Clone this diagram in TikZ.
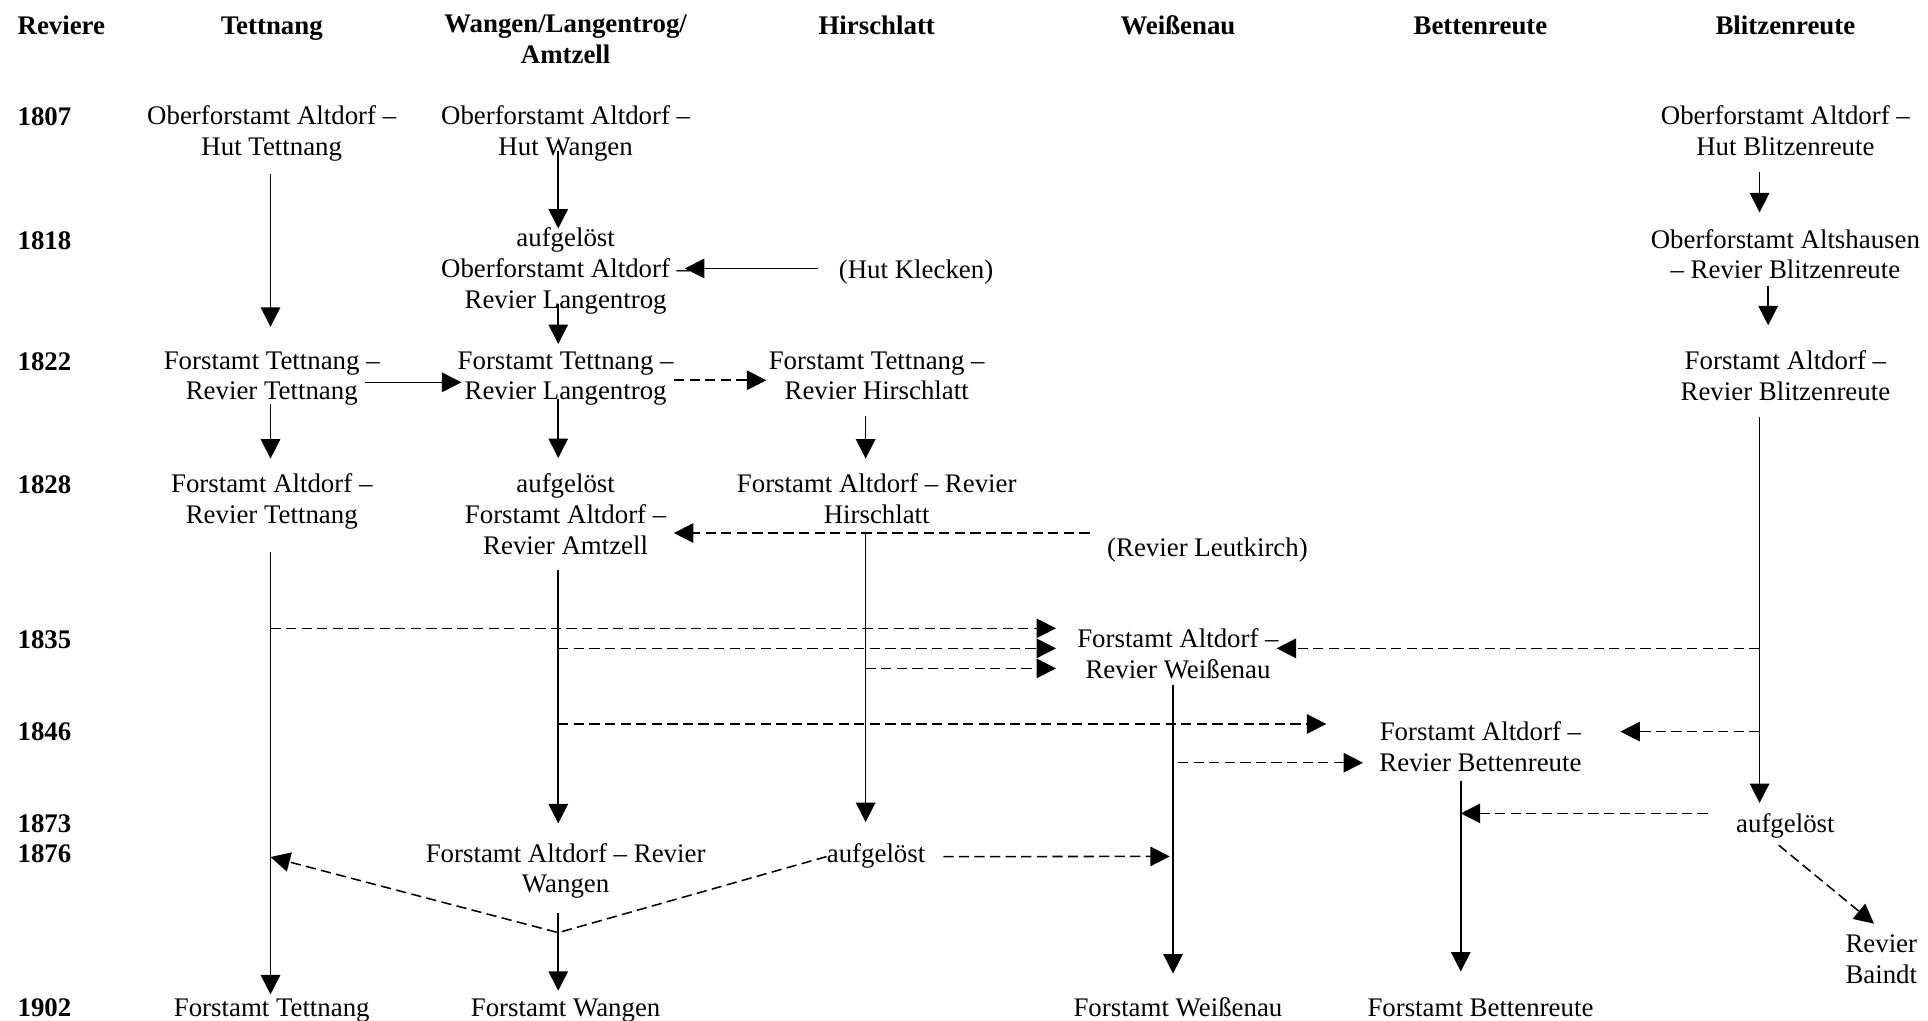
\documentclass[tikz,border=0pt]{standalone}
\usepackage{fontspec}
\setmainfont{Liberation Serif}
\usetikzlibrary{arrows.meta}

\begin{document}
\begin{tikzpicture}[x=0.6pt,y=-0.6pt]
            \tikzset{box/.style={align=center,inner sep=0pt,yshift=-1pt,font=\fontsize{13.1}{15}\selectfont,
                                 execute at begin node=\strut,execute at end node=\strut},
                     head/.style={box,font=\fontsize{13.1}{15}\selectfont\bfseries},
                     yr/.style={head,anchor=west},
                     arr/.style={line width=0.75pt,-{Triangle[length=9.5pt,width=9.5pt]}},
                     darr/.style={arr,dash pattern=on 5pt off 2.6pt}};
            \useasboundingbox (0,0) rectangle (1568,830);

            \node[yr] (hrev) at (14,21) {Reviere};
            \node[head] (htet) at (221,21) {Tettnang};
            \node[head] (hwan) at (460,34) {Wangen/Langentrog/\\Amtzell};
            \node[head] (hhir) at (713,21) {Hirschlatt};
            \node[head] (hwei) at (958,21) {Weißenau};
            \node[head] (hbet) at (1204,21) {Bettenreute};
            \node[head] (hbli) at (1452,21) {Blitzenreute};

            \node[yr] (y1807) at (14,95.5) {1807};
            \node[yr] (y1818) at (14,196) {1818};
            \node[yr] (y1822) at (14,295) {1822};
            \node[yr] (y1828) at (14,395) {1828};
            \node[yr] (y1835) at (14,521) {1835};
            \node[yr] (y1846) at (14,595.5) {1846};
            \node[yr] (y1873) at (14,670.5) {1873};
            \node[yr] (y1876) at (14,695) {1876};
            \node[yr] (y1902) at (14,820) {1902};

            \node[box] (t1807) at (221,108.4) {Oberforstamt Altdorf –\\Hut Tettnang};
            \node[box] (w1807) at (460,108.4) {Oberforstamt Altdorf –\\Hut Wangen};
            \node[box] (bl1807) at (1452,108.4) {Oberforstamt Altdorf –\\Hut Blitzenreute};

            \node[box] (w1818) at (460,220) {aufgelöst\\Oberforstamt Altdorf –\\Revier Langentrog};
            \node[box] (hk) at (745,220) {(Hut Klecken)};
            \node[box] (bl1818) at (1452,208.8) {Oberforstamt Altshausen\\– Revier Blitzenreute};

            \node[box] (t1822) at (221,307.6) {Forstamt Tettnang –\\Revier Tettnang};
            \node[box] (w1822) at (460,307.6) {Forstamt Tettnang –\\Revier Langentrog};
            \node[box] (h1822) at (713,307.6) {Forstamt Tettnang –\\Revier Hirschlatt};
            \node[box] (bl1822) at (1452,307.6) {Forstamt Altdorf –\\Revier Blitzenreute};

            \node[box] (t1828) at (221,407.5) {Forstamt Altdorf –\\Revier Tettnang};
            \node[box] (w1828) at (460,420) {aufgelöst\\Forstamt Altdorf –\\Revier Amtzell};
            \node[box] (h1828) at (713,407.5) {Forstamt Altdorf – Revier\\Hirschlatt};
            \node[box] (rl) at (982,446) {(Revier Leutkirch)};

            \node[box] (we1835) at (958,533.8) {Forstamt Altdorf –\\Revier Weißenau};
            \node[box] (b1846) at (1204,609) {Forstamt Altdorf –\\Revier Bettenreute};
            \node[box] (bl1873) at (1452,670) {aufgelöst};
            \node[box] (w1876) at (460,708) {Forstamt Altdorf – Revier\\Wangen};
            \node[box] (h1876) at (712.5,695) {aufgelöst};
            \node[box] (rb) at (1530,782) {Revier\\Baindt};

            \node[box] (t1902) at (221,820) {Forstamt Tettnang};
            \node[box] (w1902) at (460,820) {Forstamt Wangen};
            \node[box] (we1902) at (958,820) {Forstamt Weißenau};
            \node[box] (b1902) at (1204,820) {Forstamt Bettenreute};

            \coordinate (tx) at (220,0);
            \coordinate (wx) at (454,0);
            \coordinate (hx) at (704,0);
            \coordinate (wex) at (954,0);
            \coordinate (bx) at (1188,0);
            \coordinate (blx) at (1431,0);
            \coordinate (bly) at (1438,0);

            \coordinate (t1835) at (220,511);
            \coordinate (w1835) at (454,527.3);
            \coordinate (h1835) at (704,543.6);
            \coordinate (bl1835) at (1431,527.3);
            \coordinate (w1846) at (454,588.8);
            \coordinate (we1846) at (954,620.3);
            \coordinate (bl1846) at (1431,595);
            \coordinate (b1873) at (1188,661.5);
            \coordinate (we1876) at (954,696.5);
            \coordinate (t1876) at (220,697);
            \coordinate (wv) at (454,758.5);

            \draw[arr,shorten <=4.45pt,shorten >=11.85pt] (t1807.south -| tx) -- (t1822.north -| tx);
            \draw[arr,shorten <=-2.55pt,shorten >=7.15pt] (t1822.south -| tx) -- (t1828.north -| tx);
            \draw[arr,shorten <=9.25pt,shorten >=0.05pt] (t1828.south -| tx) -- (t1902.north -| tx);

            \draw[arr,shorten <=-6.95pt,shorten >=-0.55pt] (w1807.south -| wx) -- (w1818.north -| wx);
            \draw[arr,shorten <=-6.65pt,shorten >=3.45pt] (w1818.south -| wx) -- (w1822.north -| wx);
            \draw[arr,shorten <=-5.15pt,shorten >=7.45pt] (w1822.south -| wx) -- (w1828.north -| wx);
            \draw[arr,shorten <=3.25pt,shorten >=9.45pt] (w1828.south -| wx) -- (w1876.north -| wx);
            \draw[arr,shorten <=5.35pt,shorten >=1.85pt] (w1876.south -| wx) -- (w1902.north -| wx);

            \draw[arr,shorten <=3.25pt,shorten >=7.15pt] (h1822.south -| hx) -- (h1828.north -| hx);
            \draw[arr,shorten <=-0.65pt,shorten >=9.15pt] (h1828.south -| hx) -- (h1876.north -| hx);

            \draw[arr,shorten <=-1.35pt,shorten >=10.25pt] (we1835.south -| wex) -- (we1902.north -| wex);
            \draw[arr,shorten <=0.05pt,shorten >=11.25pt] (b1846.south -| bx) -- (b1902.north -| bx);

            \draw[arr,shorten <=3.45pt,shorten >=8.05pt] (bl1807.south -| blx) -- (bl1818.north -| blx);
            \draw[arr,shorten <=-1.45pt,shorten >=12.25pt] (bl1818.south -| bly) -- (bl1822.north -| bly);
            \draw[arr,shorten <=3.25pt,shorten >=3.45pt] (bl1822.south -| blx) -- (bl1873.north -| blx);

            \draw[arr,shorten <=10.2pt,shorten >=-2.8pt] ([yshift=2pt]hk.west) -- ([yshift=2pt]hk.west -| w1818.east);
            \draw[arr,shorten <=-7.2pt,shorten >=-2pt] ([yshift=-1pt]t1822.east) -- ([yshift=-1pt]w1822.west);
            \draw[darr,shorten >=1pt] (w1822.east) -- (h1822.west);
            \draw[darr,shorten <=8.4pt,shorten >=3.5pt] ([yshift=8.5pt]rl.west) -- ([yshift=8.5pt]rl.west -| w1828.east);

            \draw[darr,shorten >=10.2pt] (t1835) -- (t1835 -| we1835.west);
            \draw[darr,shorten >=10.2pt] (w1835) -- (w1835 -| we1835.west);
            \draw[darr,shorten >=10.2pt] (h1835) -- (h1835 -| we1835.west);
            \draw[darr,shorten >=-1.2pt] (bl1835) -- (bl1835 -| we1835.east);

            \draw[darr,shorten >=25.7pt] (w1846) -- (w1846 -| b1846.west);
            \draw[darr,shorten <=2.4pt,shorten >=7.8pt] (we1846) -- (we1846 -| b1846.west);
            \draw[darr,shorten >=18.8pt] (bl1846) -- (bl1846 -| b1846.east);
            \draw[darr,shorten <=13.7pt] (bl1873.west |- b1873) -- (b1873);

            \draw[darr,shorten <=8.6pt,shorten >=1.6pt] (h1876.east) -- (we1876);
            \draw[darr] (h1876.west) -- (wv) -- (t1876);
            \draw[darr] ([shift={(-5.5,2.8)}]bl1873.south) -- ([shift={(-6,-8.7)}]rb.north);
        \end{tikzpicture}
\end{document}
